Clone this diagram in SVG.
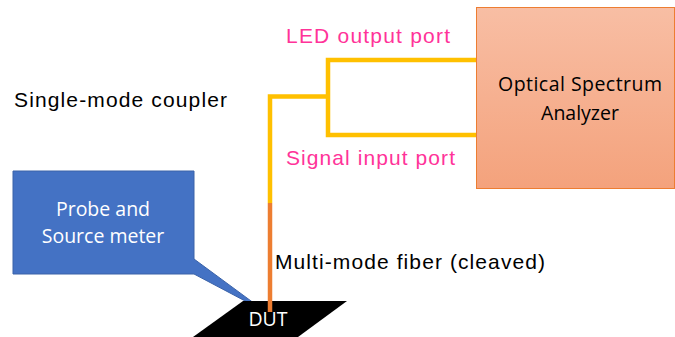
<svg xmlns="http://www.w3.org/2000/svg" width="675" height="337" viewBox="0 0 675 337">
<defs>
<linearGradient id="osaGrad" x1="0" y1="0" x2="0" y2="1">
<stop offset="0" stop-color="#f8bea4"/>
<stop offset="1" stop-color="#f4a27c"/>
</linearGradient>
</defs>
<style>
.lbl{font-family:"Liberation Sans",Arial,sans-serif;font-size:21px;fill:#000}
.pink{font-family:"Liberation Sans",Arial,sans-serif;font-size:21px;fill:#ff3399}
.box{font-family:"Open Sans","Noto Sans",sans-serif;font-size:19.5px;text-anchor:middle}
.sm{fill:none;stroke:#ffc000;stroke-width:4.5;stroke-linejoin:miter}
</style>
<rect width="675" height="337" fill="#fff"/>
<g id="osa">
<rect x="476.5" y="7.5" width="198" height="181" fill="url(#osaGrad)" stroke="#ed7d31" stroke-width="1"/>
<text class="box" x="580" y="91" fill="#000" textLength="164" lengthAdjust="spacing">Optical Spectrum</text>
<text class="box" x="580" y="120" fill="#000">Analyzer</text>
</g>
<g id="probe">
<path d="M13,171 H194 V259 L266,312 L194,274 H13 Z" fill="#4472c4" stroke="#3a62a8" stroke-width="1"/>
<text class="box" x="103" y="216" fill="#fff">Probe and</text>
<text class="box" x="103" y="243" fill="#fff">Source meter</text>
</g>
<g id="dut">
<polygon points="243,301 347,301 298,337 193,337" fill="#000"/>
<text class="box" x="268" y="326" fill="#fff">DUT</text>
</g>
<g id="connectors">
<polyline class="sm" points="476,60 328,60 328,135 476,135"/>
<polyline class="sm" points="328,96.5 270,96.5 270,203"/>
<line x1="270" y1="203" x2="270" y2="312" stroke="#ed7d31" stroke-width="4.5"/>
</g>
<g id="labels">
<text class="pink" x="286" y="43" textLength="164" lengthAdjust="spacing">LED output port</text>
<text class="pink" x="286" y="165" textLength="169" lengthAdjust="spacing">Signal input port</text>
<text class="lbl" x="14" y="107" textLength="213" lengthAdjust="spacing">Single-mode coupler</text>
<text class="lbl" x="275" y="269" textLength="270" lengthAdjust="spacing">Multi-mode fiber (cleaved)</text>
</g>
</svg>
